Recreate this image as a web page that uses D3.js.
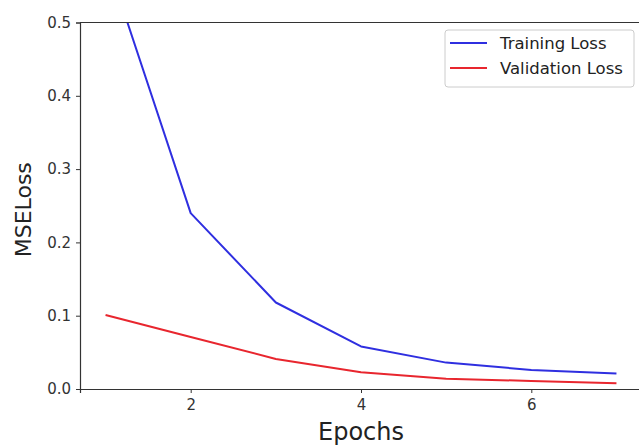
<!DOCTYPE html>
<html>
<head>
<meta charset="utf-8">
<script src="https://cdn.jsdelivr.net/npm/d3@7"></script>
<style>
  body { margin: 0; background: #fff; }
  svg { display: block; font-family: "DejaVu Sans", sans-serif; }
</style>
</head>
<body>
<div id="chart"></div>
<script>
// values
var epochs = [1, 2, 3, 4, 5, 6, 7]
var training_loss = [0.59, 0.24, 0.118, 0.058, 0.036, 0.026, 0.021]
var validation_loss = [0.101, 0.071, 0.041, 0.023, 0.014, 0.011, 0.008]
var x_ticks = [2, 4, 6]
var y_ticks = [0.0, 0.1, 0.2, 0.3, 0.4, 0.5]
var series_names = ["Training Loss", "Validation Loss"]
var series_colors = ["#2f2fe0", "#e8262e"]

var W = 639, H = 445
var margin = {top: 22.5, right: -3, bottom: 56, left: 80}
var width = W - margin.left - margin.right,
    height = H - margin.top - margin.bottom

var svg = d3.select("#chart")
  .append("svg")
    .attr("width", W)
    .attr("height", H)

var g = svg.append("g")
    .attr("transform", "translate(" + margin.left + "," + margin.top + ")")

var x = d3.scaleLinear().domain([0.7, 7.3]).range([0, width])
var y = d3.scaleLinear().domain([0, 0.5]).range([height, 0])

// clip so the first training point runs off the top like in matplotlib
svg.append("defs").append("clipPath").attr("id", "clip")
  .append("rect").attr("width", width).attr("height", height)

var line = d3.line()
  .x(function(d) { return x(d[0]) })
  .y(function(d) { return y(d[1]) })

var all_series = [training_loss, validation_loss]
var lines = g.append("g").attr("clip-path", "url(#clip)")
all_series.forEach(function(vals, i) {
  lines.append("path")
    .datum(epochs.map(function(e, j) { return [e, vals[j]] }))
    .attr("fill", "none")
    .attr("stroke", series_colors[i])
    .attr("stroke-width", 2)
    .attr("stroke-linejoin", "round")
    .attr("d", line)
})

// axes
var xAxis = g.append("g")
  .attr("transform", "translate(0," + height + ")")
  .call(d3.axisBottom(x).tickValues(x_ticks).tickFormat(d3.format("d")).tickSize(4).tickPadding(6))
var yAxis = g.append("g")
  .call(d3.axisLeft(y).tickValues(y_ticks).tickFormat(d3.format(".1f")).tickSize(4).tickPadding(5))

;[xAxis, yAxis].forEach(function(a) {
  a.select(".domain").attr("stroke", "#333").attr("stroke-width", 1.2)
  a.selectAll(".tick line").attr("stroke", "#333")
  a.selectAll(".tick text").attr("fill", "#333").style("font-size", "15px")
    .style("font-family", "DejaVu Sans, sans-serif")
})

// top spine
g.append("line")
  .attr("x1", 0).attr("x2", width).attr("y1", 0).attr("y2", 0)
  .attr("stroke", "#333").attr("stroke-width", 1.2)

// axis titles
svg.append("text")
  .attr("x", margin.left + x(4))
  .attr("y", 440)
  .attr("text-anchor", "middle")
  .attr("fill", "#222")
  .style("font-size", "24px")
  .text("Epochs")

svg.append("text")
  .attr("transform", "translate(31," + (margin.top + height / 2 + 4) + ") rotate(-90)")
  .attr("text-anchor", "middle")
  .attr("fill", "#222")
  .style("font-size", "22px")
  .text("MSELoss")

// legend
var lg = svg.append("g").attr("transform", "translate(445,30)")
lg.append("rect")
  .attr("width", 189).attr("height", 57).attr("rx", 3)
  .attr("fill", "#fff").attr("fill-opacity", 0.8)
  .attr("stroke", "#ccc")
series_names.forEach(function(name, i) {
  var yy = 13 + i * 25
  lg.append("line")
    .attr("x1", 5).attr("x2", 42).attr("y1", yy).attr("y2", yy)
    .attr("stroke", series_colors[i]).attr("stroke-width", 2)
  lg.append("text")
    .attr("x", 55).attr("y", yy + 6)
    .attr("fill", "#222")
    .style("font-size", "16.5px")
    .text(name)
})
</script>
</body>
</html>
